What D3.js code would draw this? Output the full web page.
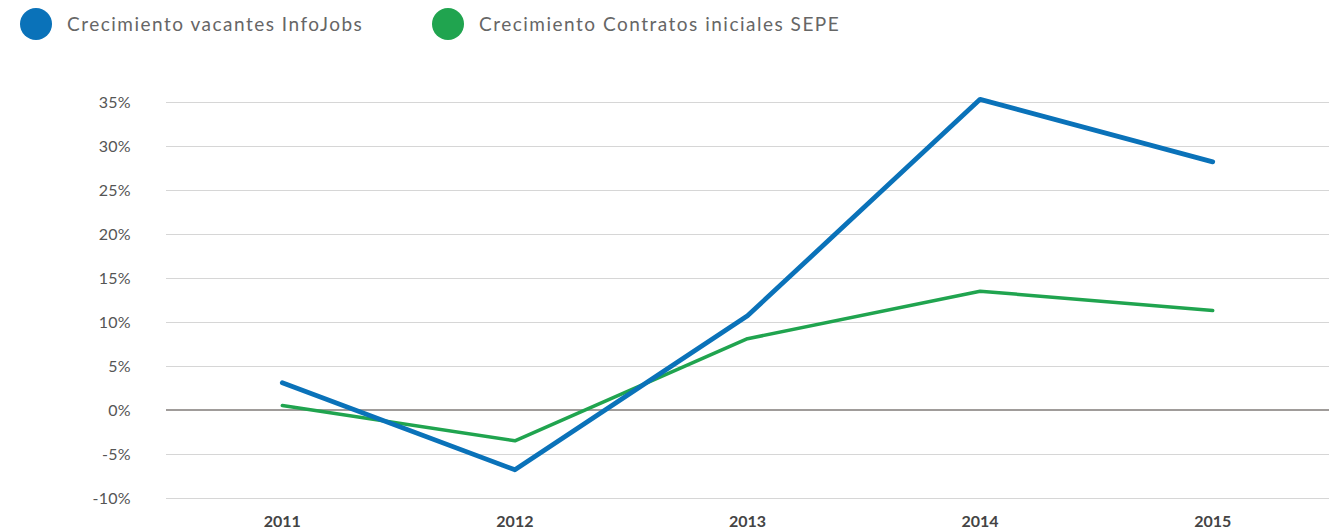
<!DOCTYPE html>
<html>
<head>
<meta charset="utf-8">
<script src="https://cdn.jsdelivr.net/npm/d3@7"></script>
<style>
  body { margin: 0; background: #fff; font-family: Lato, "Open Sans", sans-serif; }
  .legend text { fill: #666; font-size: 19px; letter-spacing: 1.5px; }
  .yaxis text { fill: #555; font-size: 16px; letter-spacing: 0.3px; }
  .xaxis text { fill: #444; font-size: 16px; font-weight: bold; }
</style>
</head>
<body>
<script>
const years = ["2011", "2012", "2013", "2014", "2015"];
const infojobs = [3.1, -6.8, 10.7, 35.3, 28.2];
const sepe = [0.5, -3.5, 8.1, 13.5, 11.3];
const yTicks = [-10, -5, 0, 5, 10, 15, 20, 25, 30, 35];
const seriesNames = ["Crecimiento vacantes InfoJobs", "Crecimiento Contratos iniciales SEPE"];
const seriesColors = ["#0a72b9", "#20a44f"];

const width = 1329, height = 530;

const svg = d3.select("body").append("svg")
  .attr("width", width)
  .attr("height", height);

const x = d3.scaleBand()
  .domain(years)
  .range([166, 1329]);

const y = d3.scaleLinear()
  .domain([-10, 35])
  .range([498, 102]);

// grid
svg.append("g").classed("grid", true)
  .selectAll("line")
  .data(yTicks.filter(d => d != 0))
  .enter().append("line")
  .attr("x1", 166).attr("x2", width)
  .attr("y1", d => y(d) + 0.5).attr("y2", d => y(d) + 0.5)
  .attr("stroke", "#d6d6d6")
  .attr("stroke-width", 1);

svg.append("line")
  .attr("x1", 166).attr("x2", width)
  .attr("y1", y(0)).attr("y2", y(0))
  .attr("stroke", "#a09c9a")
  .attr("stroke-width", 2);

// y labels
svg.append("g").classed("yaxis", true)
  .selectAll("text")
  .data(yTicks)
  .enter().append("text")
  .attr("x", 131)
  .attr("y", d => y(d))
  .attr("dy", "0.35em")
  .attr("text-anchor", "end")
  .text(d => d + "%");

// x labels
svg.append("g").classed("xaxis", true)
  .selectAll("text")
  .data(years)
  .enter().append("text")
  .attr("x", d => x(d) + x.bandwidth() / 2)
  .attr("y", 527)
  .attr("text-anchor", "middle")
  .text(d => d);

// lines
const line = d3.line()
  .x((d, i) => x(years[i]) + x.bandwidth() / 2)
  .y(d => y(d));

[[sepe, 1, 3.5], [infojobs, 0, 4.8]].forEach(([vals, ci, w]) => {
  svg.append("path")
    .datum(vals)
    .attr("d", line)
    .attr("fill", "none")
    .attr("stroke", seriesColors[ci])
    .attr("stroke-width", w)
    .attr("stroke-linecap", "round")
    .attr("stroke-linejoin", "round");
});

// legend
const legX = [36, 448];
const legend = svg.append("g").classed("legend", true)
  .selectAll("g")
  .data(seriesNames)
  .enter().append("g")
  .attr("transform", (d, i) => "translate(" + legX[i] + ",24)");

legend.append("circle")
  .attr("r", 16)
  .attr("fill", (d, i) => seriesColors[i]);

legend.append("text")
  .attr("x", 31)
  .attr("dy", "0.35em")
  .text(d => d);
</script>
</body>
</html>
